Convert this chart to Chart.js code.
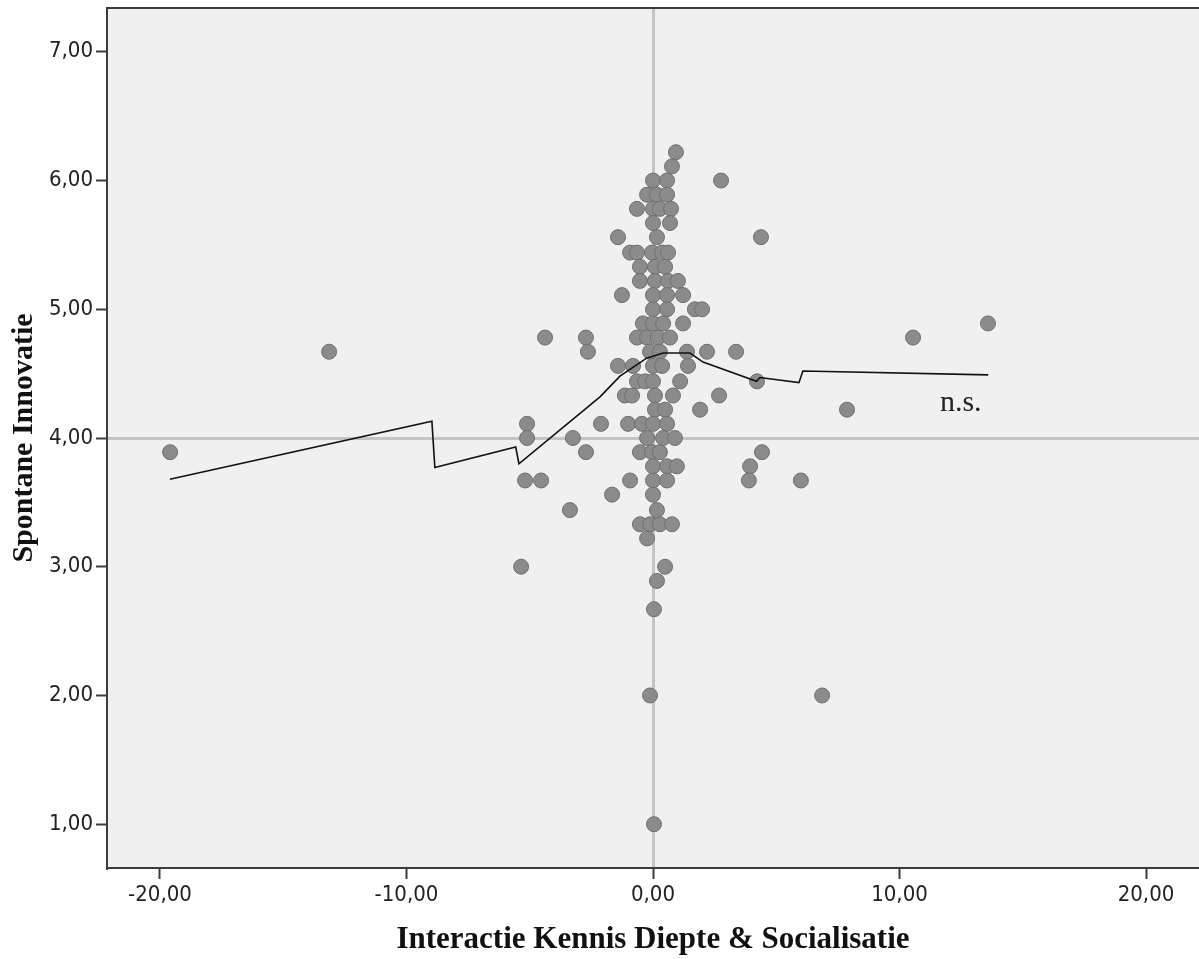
<!DOCTYPE html>
<html>
<head>
<meta charset="utf-8">
<title>Spontane Innovatie</title>
<script src="https://cdn.jsdelivr.net/npm/chart.js@4.4.1/dist/chart.umd.min.js"></script>
<style>
  html, body { margin: 0; padding: 0; background: #fff; overflow: hidden; }
  canvas { display: block; }
</style>
</head>
<body>
<canvas id="scatter" width="1199" height="959"></canvas>
<script>
'use strict';

// x: Interactie Kennis Diepte & Socialisatie, one line per level of y
var kennisSocialisatie = [
    0.93,
    0.77,
    0, 0.57, 2.76,
    -0.24, 0.16, 0.57,
    -0.65, 0, 0.28, 0.73,
    0, 0.69,
    -1.42, 0.16, 4.38,
    -0.93, -0.65, -0.04, 0.37, 0.61,
    -0.53, 0.08, 0.49,
    -0.53, 0.08, 0.61, 1.01,
    -1.26, 0, 0.57, 1.22,
    0, 0.57, 1.70, 1.99,
    -0.41, 0, 0.41, 1.22, 13.59,
    -4.38, -2.72, -0.65, -0.24, 0.20, 0.69, 10.55,
    -13.14, -2.64, -0.12, 0.28, 1.38, 2.19, 3.37,
    -1.42, -0.81, 0, 0.37, 1.42,
    -0.65, -0.32, 0, 1.10, 4.22,
    -1.14, -0.85, 0.08, 0.81, 2.68,
    0.08, 0.49, 1.91, 7.87,
    -5.11, -2.11, -1.01, -0.45, 0, 0.57,
    -5.11, -3.25, -0.24, 0.41, 0.89,
    -19.59, -2.72, -0.53, -0.04, 0.28, 4.42,
    0, 0.57, 0.97, 3.94,
    -5.19, -4.54, -0.93, 0, 0.57, 3.89, 6.00,
    -1.66, 0,
    -3.37, 0.16,
    -0.53, -0.12, 0.28, 0.77,
    -0.24,
    -5.35, 0.49,
    0.16,
    0.04,
    -0.12, 6.86,
    0.04
];

// y: Spontane Innovatie
var spontaneInnovatie = [
    6.22,
    6.11,
    6.00, 6.00, 6.00,
    5.89, 5.89, 5.89,
    5.78, 5.78, 5.78, 5.78,
    5.67, 5.67,
    5.56, 5.56, 5.56,
    5.44, 5.44, 5.44, 5.44, 5.44,
    5.33, 5.33, 5.33,
    5.22, 5.22, 5.22, 5.22,
    5.11, 5.11, 5.11, 5.11,
    5.00, 5.00, 5.00, 5.00,
    4.89, 4.89, 4.89, 4.89, 4.89,
    4.78, 4.78, 4.78, 4.78, 4.78, 4.78, 4.78,
    4.67, 4.67, 4.67, 4.67, 4.67, 4.67, 4.67,
    4.56, 4.56, 4.56, 4.56, 4.56,
    4.44, 4.44, 4.44, 4.44, 4.44,
    4.33, 4.33, 4.33, 4.33, 4.33,
    4.22, 4.22, 4.22, 4.22,
    4.11, 4.11, 4.11, 4.11, 4.11, 4.11,
    4.00, 4.00, 4.00, 4.00, 4.00,
    3.89, 3.89, 3.89, 3.89, 3.89, 3.89,
    3.78, 3.78, 3.78, 3.78,
    3.67, 3.67, 3.67, 3.67, 3.67, 3.67, 3.67,
    3.56, 3.56,
    3.44, 3.44,
    3.33, 3.33, 3.33, 3.33,
    3.22,
    3.00, 3.00,
    2.89,
    2.67,
    2.00, 2.00,
    1.00
];

// loess fit line
var fitX = [-19.6, -8.97, -8.85, -5.57, -5.44, -2.15, -1.34, -0.26, 0.41, 1.5, 2.03, 4.2, 4.34, 5.92, 6.08, 13.6];
var fitY = [3.68, 4.13, 3.77, 3.93, 3.80, 4.32, 4.48, 4.62, 4.66, 4.66, 4.59, 4.44, 4.47, 4.43, 4.52, 4.49];

var xTicks = [-20, -10, 0, 10, 20];
var yTicks = [1, 2, 3, 4, 5, 6, 7];
var xRefLine = 0;
var yRefLine = 4;

function pairs(xs, ys) {
    return xs.map(function (x, i) { return { x: x, y: ys[i] }; });
}

function comma(v) {
    return Number(v).toFixed(2).replace('.', ',');
}

var tickFont = { family: "'Liberation Sans Narrow', 'DejaVu Sans Condensed', sans-serif", size: 22 };
var titleFont = { family: "'Liberation Serif', serif", size: 31, weight: 'bold' };

// plot background + top border
var plotFrame = {
    id: 'plotFrame',
    beforeDraw: function (chart) {
        var c = chart.ctx, a = chart.chartArea;
        c.save();
        c.fillStyle = '#ffffff';
        c.fillRect(0, 0, chart.width, chart.height);
        c.fillStyle = '#f0f0f0';
        c.fillRect(a.left, a.top, a.right - a.left, a.bottom - a.top);
        c.restore();
    },
    afterDraw: function (chart) {
        var c = chart.ctx, a = chart.chartArea;
        c.save();
        c.strokeStyle = '#3c3c3c';
        c.lineWidth = 2;
        c.beginPath();
        c.moveTo(a.left, a.top);
        c.lineTo(a.right, a.top);
        c.stroke();
        // n.s. label next to the fit line
        c.fillStyle = '#222';
        c.font = "30px 'Liberation Serif', serif";
        c.textBaseline = 'alphabetic';
        c.fillText('n.s.', chart.scales.x.getPixelForValue(11.64), chart.scales.y.getPixelForValue(4.21));
        c.restore();
    }
};

function refGrid(refValue) {
    return {
        drawOnChartArea: true,
        color: function (ctx) {
            return ctx.tick && ctx.tick.value === refValue ? '#c4c4c4' : 'rgba(0,0,0,0)';
        },
        lineWidth: 3,
        tickColor: '#3c3c3c',
        tickWidth: 2,
        tickLength: 11
    };
}

var ctx = document.getElementById('scatter').getContext('2d');
var chart = new Chart(ctx, {
    type: 'scatter',
    data: {
        datasets: [
            {
                label: 'fit',
                type: 'line',
                data: pairs(fitX, fitY),
                borderColor: '#111',
                borderWidth: 1.6,
                pointRadius: 0,
                fill: false,
                tension: 0,
                order: 0
            },
            {
                label: 'Spontane Innovatie',
                data: pairs(kennisSocialisatie, spontaneInnovatie),
                backgroundColor: '#8b8b8b',
                borderColor: '#707070',
                borderWidth: 1,
                pointRadius: 7.5,
                order: 1
            }
        ]
    },
    plugins: [plotFrame],
    options: {
        responsive: false,
        animation: false,
        layout: { autoPadding: false, padding: { top: 8, right: 0, left: 0, bottom: 0 } },
        plugins: {
            legend: { display: false },
            tooltip: { enabled: false }
        },
        scales: {
            x: {
                type: 'linear',
                min: -22.15,
                max: 22.15,
                afterBuildTicks: function (scale) {
                    scale.ticks = xTicks.map(function (v) { return { value: v }; });
                },
                afterFit: function (scale) {
                    scale.height = 91;
                    scale.paddingLeft = 0;
                    scale.paddingRight = 0;
                },
                grid: refGrid(xRefLine),
                border: { display: true, color: '#3c3c3c', width: 2 },
                ticks: {
                    color: '#222',
                    font: tickFont,
                    padding: 3,
                    maxRotation: 0,
                    autoSkip: false,
                    callback: function (v) { return comma(v); }
                },
                title: {
                    display: true,
                    text: 'Interactie Kennis Diepte & Socialisatie',
                    color: '#111',
                    font: titleFont,
                    padding: { top: 0, bottom: 0 }
                }
            },
            y: {
                type: 'linear',
                min: 0.66,
                max: 7.34,
                afterBuildTicks: function (scale) {
                    scale.ticks = yTicks.map(function (v) { return { value: v }; });
                },
                afterFit: function (scale) {
                    scale.width = 107;
                    scale.paddingTop = 0;
                    scale.paddingBottom = 0;
                },
                grid: refGrid(yRefLine),
                border: { display: true, color: '#3c3c3c', width: 2 },
                ticks: {
                    color: '#222',
                    font: tickFont,
                    padding: 3,
                    autoSkip: false,
                    callback: function (v) { return comma(v); }
                },
                title: {
                    display: true,
                    text: 'Spontane Innovatie',
                    color: '#111',
                    font: { family: "'Liberation Serif', serif", size: 30, weight: 'bold' },
                    padding: { top: 6, bottom: 0 }
                }
            }
        }
    }
});
</script>
</body>
</html>
